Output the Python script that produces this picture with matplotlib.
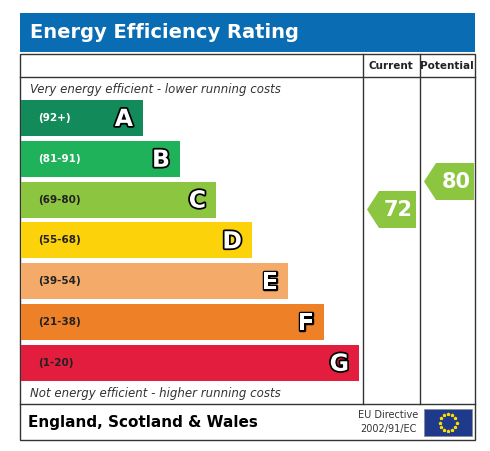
import numpy as np
import matplotlib
matplotlib.use('Agg')
import matplotlib.pyplot as plt
from matplotlib.patches import Rectangle, Polygon
import matplotlib.patheffects as pe

# Bands
bands = ['A', 'B', 'C', 'D', 'E', 'F', 'G']
ranges = ['(92+)', '(81-91)', '(69-80)', '(55-68)', '(39-54)', '(21-38)', '(1-20)']
band_colors = ['#138a59', '#1fb25a', '#8cc641', '#fcd20b', '#f4ab6a', '#ee8127', '#e31d3e']
current = 72
potential = 80

def band_of(v):
    lows = [92, 81, 69, 55, 39, 21, 1]
    for i, lo in enumerate(lows):
        if v >= lo:
            return i
    return 6

fig = plt.figure(figsize=(4.9, 4.51), dpi=100)
ax = fig.add_axes([0, 0, 1, 1])
ax.set_xlim(0, 490)
ax.set_ylim(451, 0)
ax.axis('off')

# header
ax.add_patch(Rectangle((20, 13), 455, 39, facecolor='#0a6db3', edgecolor='none'))
ax.text(30, 33, 'Energy Efficiency Rating', fontsize=14, fontweight='bold',
        color='white', va='center', ha='left')

# frame
lc = '#333333'
ax.add_patch(Rectangle((20, 54), 455, 386, facecolor='white', edgecolor=lc, lw=1))
ax.plot([20, 475], [77, 77], color=lc, lw=1)
ax.plot([20, 475], [404, 404], color=lc, lw=1)
ax.plot([363, 363], [54, 404], color=lc, lw=1)
ax.plot([420, 420], [54, 404], color=lc, lw=1)
ax.text(391, 66, 'Current', fontsize=7.5, fontweight='bold', ha='center', va='center', color='#222222')
ax.text(447, 66, 'Potential', fontsize=7.5, fontweight='bold', ha='center', va='center', color='#222222')

ax.text(30, 89, 'Very energy efficient - lower running costs', fontsize=8.5,
        style='italic', color='#333333', va='center')
ax.text(30, 393, 'Not energy efficient - higher running costs', fontsize=8.5,
        style='italic', color='#333333', va='center')

top0, step, h = 100, 40.8, 36
rights = [143, 180, 216, 252, 288, 324, 359]
outline = [pe.withStroke(linewidth=2.5, foreground='black')]
for i, (b, r, c) in enumerate(zip(bands, ranges, band_colors)):
    y = top0 + i * step
    ax.add_patch(Rectangle((21, y), rights[i] - 21, h, facecolor=c, edgecolor='none'))
    ax.text(38, y + h / 2, r, fontsize=7.5, fontweight='bold',
            color='white' if i < 2 else '#222222', va='center')
    ax.text(rights[i] - 10, y + h / 2 + 1, b, fontsize=17, fontweight='bold',
            color='white', ha='right', va='center', path_effects=outline)

def arrow(x0, x1, yc, val):
    c = band_colors[band_of(val)]
    hh = 18.5
    pts = [(x0, yc), (x0 + 12, yc - hh), (x1, yc - hh), (x1, yc + hh), (x0 + 12, yc + hh)]
    ax.add_patch(Polygon(pts, closed=True, facecolor=c, edgecolor='none'))
    ax.text((x0 + 12 + x1) / 2 + 1, yc + 1, str(val), fontsize=15, fontweight='bold',
            color='white', ha='center', va='center')

arrow(367, 416, 209.5, current)
arrow(424, 474, 181.5, potential)

# footer
ax.text(28, 422, 'England, Scotland & Wales', fontsize=11, fontweight='bold',
        color='black', va='center')
ax.text(388, 415, 'EU Directive', fontsize=7, color='#333333', ha='center', va='center')
ax.text(388, 429, '2002/91/EC', fontsize=7, color='#333333', ha='center', va='center')
ax.add_patch(Rectangle((424, 409), 48, 27, facecolor='#1f3a8a', edgecolor='#888888', lw=0.5))
ang = np.linspace(0, 2 * np.pi, 12, endpoint=False)
ax.scatter(448 + 8.5 * np.cos(ang), 422.5 + 8.5 * np.sin(ang), s=3, marker='*', color='#ffdd00', zorder=5)

fig.savefig('out.png', dpi=100, facecolor='white')
